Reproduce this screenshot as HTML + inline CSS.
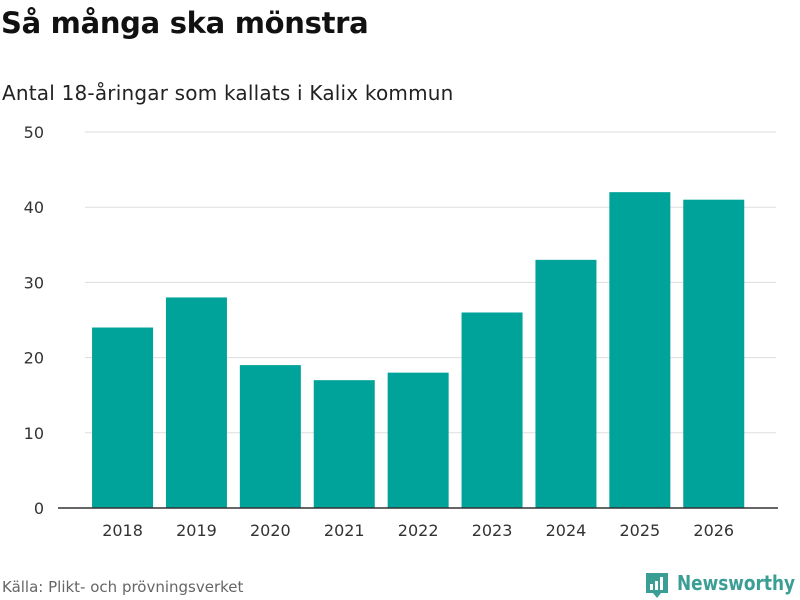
<!DOCTYPE html>
<html><head><meta charset="utf-8"><style>
body{margin:0;width:800px;height:600px;background:#fff;font-family:"DejaVu Sans","Liberation Sans",sans-serif;overflow:hidden;position:relative}
.t{position:absolute;left:1px;top:6px;font-size:29px;font-weight:bold;color:#111;letter-spacing:-0.3px}
.s{position:absolute;left:2px;top:81px;font-size:20px;color:#222;letter-spacing:0.2px}
.src{position:absolute;left:2px;top:578px;font-size:15px;color:#666}
</style></head><body>
<div class="t">Så många ska mönstra</div>
<div class="s">Antal 18-åringar som kallats i Kalix kommun</div>
<div class="src">Källa: Plikt- och prövningsverket</div>
<svg width="800" height="600" style="position:absolute;left:0;top:0">
<g id="grid"></g><g id="bars"></g><g id="xl"></g>
<line x1="58" x2="778" y1="508" y2="508" stroke="#333" stroke-width="1.5"/>
<g>
<path d="M646 573h22v20h-7l-4 5-4-5h-7z" fill="#3a9e94"/>
<rect x="650" y="584" width="3" height="6" fill="#fff"/><rect x="655" y="581" width="3" height="9" fill="#fff"/><rect x="660" y="577" width="3" height="13" fill="#fff"/>
<text x="677" y="590" font-size="20" font-weight="bold" fill="#3a9e94" font-family="DejaVu Sans,sans-serif" textLength="118" lengthAdjust="spacingAndGlyphs">Newsworthy</text>
</g>
</svg>
<script>
const categories=["2018","2019","2020","2021","2022","2023","2024","2025","2026"];
const values=[24,28,19,17,18,26,33,42,41];
const ticks=[0,10,20,30,40,50];
const ns="http://www.w3.org/2000/svg";
const y=v=>508-v*7.52;
const band=73.9,left=85.6,bw=61;
const x=i=>left+i*band+(band-bw)/2;
function mk(t,a,p){const e=document.createElementNS(ns,t);for(const k in a)e.setAttribute(k,a[k]);document.getElementById(p).appendChild(e);return e;}
ticks.forEach(t=>{
 if(t>0){const l=mk('line',{x1:85,x2:776,y1:y(t),y2:y(t),stroke:'#ddd','stroke-width':1},'grid');
 
 }
 const tx=mk('text',{x:44,y:y(t)+6,'text-anchor':'end','font-size':16,fill:'#333'},'grid');tx.textContent=t;
 
 
});
values.forEach((v,i)=>{
 const r=mk('rect',{x:x(i),y:y(v),width:bw,height:508-y(v),fill:'#00a39a'},'bars');
 
 
 const tx=mk('text',{x:x(i)+bw/2,y:536,'text-anchor':'middle','font-size':16,fill:'#333'},'xl');tx.textContent=categories[i];
 
 
});
</script>
</body></html>
